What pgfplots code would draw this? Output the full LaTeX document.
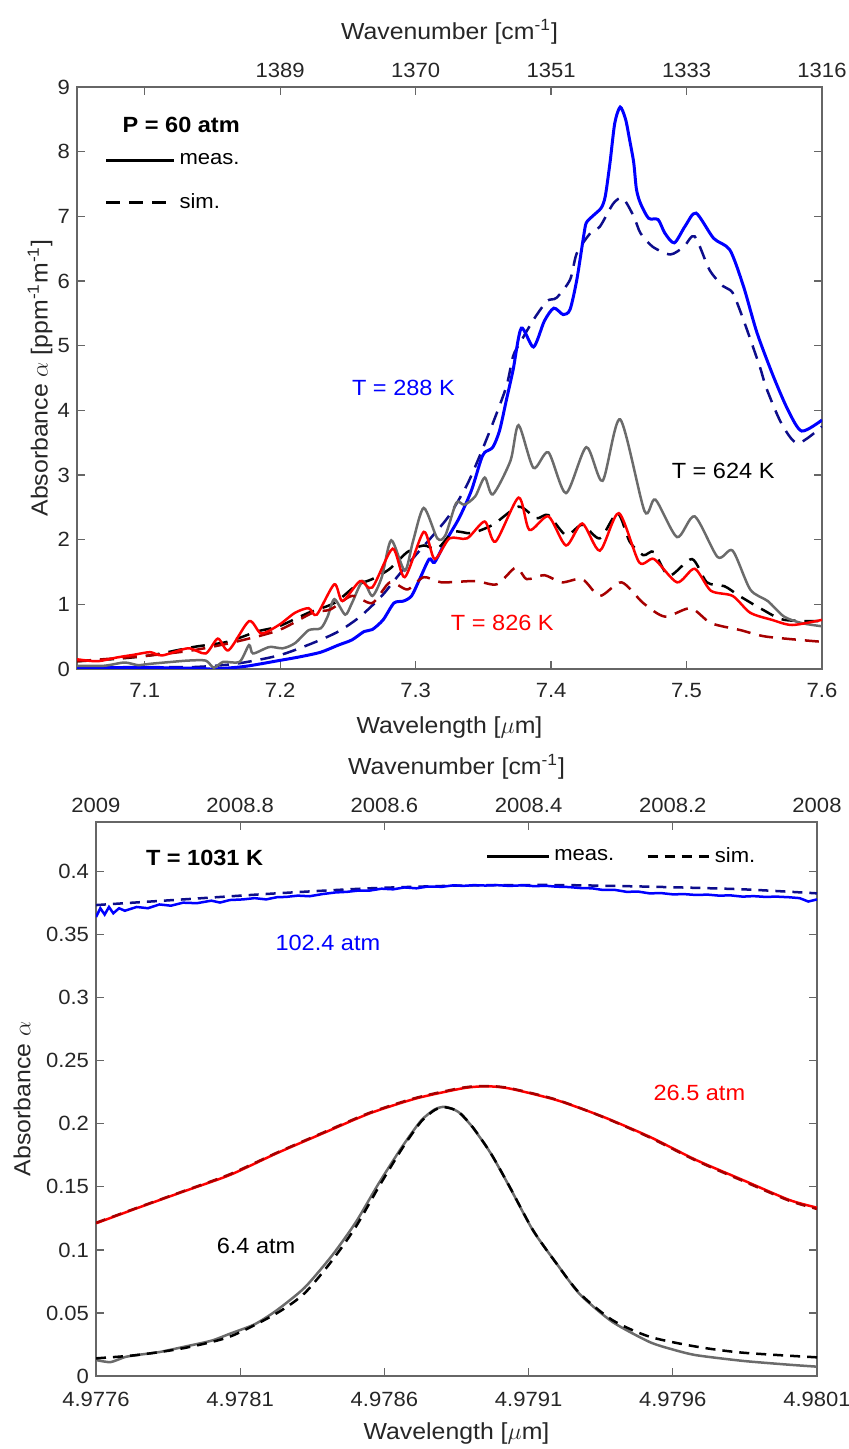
\documentclass[border=0pt]{standalone}
\usepackage{fontspec}
\setmainfont{Liberation Sans}[FakeStretch=1.07]
\usepackage{pgfplots}
\pgfplotsset{compat=1.18}
\definecolor{mblue}{rgb}{0,0,1}
\definecolor{sblue}{rgb}{0.05,0.05,0.55}
\definecolor{mgray}{rgb}{0.42,0.42,0.42}
\definecolor{mred}{rgb}{1,0,0}
\definecolor{sred}{rgb}{0.65,0,0}
\pgfplotsset{
  mystyle/.style={scale only axis, anchor=south west,
    axis line style={black!60, line width=0.6pt},
    tick style={black!60, line width=0.6pt},
    tick align=inside, major tick length=4pt,
    tick label style={font=\fontsize{10.3}{11}\selectfont, text=black!85},
    label style={font=\fontsize{11.6}{12}\selectfont, text=black!85},
    /pgf/number format/assume math mode=true},
  meas/.style={line width=1.25pt, smooth, tension=0.45},
  sim/.style={line width=1.25pt, dash pattern=on 7pt off 4.5pt, smooth, tension=0.45},
}
\begin{document}
\begin{tikzpicture}
% ---------------- top panel ----------------
\begin{axis}[mystyle, at={(38.5pt,390pt)}, width=372.5pt, height=291pt,
  xmin=7.05, xmax=7.6, ymin=0, ymax=9,
  xtick={7.1,7.2,7.3,7.4,7.5,7.6}, xticklabels={7.1,7.2,7.3,7.4,7.5,7.6},
  ytick={0,1,2,3,4,5,6,7,8,9}, yticklabels={0,1,2,3,4,5,6,7,8,9},
  xtick pos=bottom, ytick pos=both, yticklabel pos=left,
  xticklabel style={yshift=-3.5pt},
  xlabel={Wavelength [$\mu$m]},
  xlabel style={at={(axis description cs:0.5,-0.0997)}, anchor=center},
  ylabel={Absorbance $\alpha$ [ppm\textsuperscript{-1}m\textsuperscript{-1}]},
  ylabel style={at={(axis description cs:-0.0497,0.5)}, anchor=center},
  legend style={at={(axis description cs:0.037,0.893)}, anchor=north west, draw=none, fill=none,
    font=\fontsize{10.3}{11}\selectfont, row sep=9pt, inner sep=0pt},
  legend cell align=left,
  legend image code/.code={\draw[#1] (0pt,0pt) -- (34pt,0pt);},
]
\addlegendimage{black, line width=1.3pt}
\addlegendentry{meas.}
\addlegendimage{black, line width=1.3pt, dash pattern=on 7pt off 4.5pt}
\addlegendentry{sim.}
% blue sim 288 K
\addplot[sim, sblue] coordinates {
(7.050,0.02)(7.100,0.03)(7.136,0.03)(7.167,0.08)(7.199,0.21)(7.224,0.40)(7.243,0.58)(7.259,0.81)
(7.275,1.13)(7.287,1.44)(7.300,1.76)(7.313,2.07)(7.325,2.38)(7.338,2.85)(7.348,3.33)(7.357,3.80)
(7.367,4.37)(7.372,4.84)(7.377,5.04)(7.387,5.40)(7.397,5.69)(7.404,5.74)(7.414,6.02)(7.419,6.43)
(7.429,6.74)(7.436,6.84)(7.446,7.20)(7.453,7.28)(7.461,7.00)(7.466,6.74)(7.475,6.53)(7.488,6.41)
(7.498,6.53)(7.506,6.69)(7.517,6.17)(7.527,5.92)(7.534,5.82)(7.542,5.40)(7.554,4.68)(7.559,4.34)
(7.570,3.80)(7.582,3.49)(7.600,3.75)};
% blue meas 288 K
\addplot[meas, mblue, line width=1.5pt] coordinates {
(7.050,0.02)(7.080,0.02)(7.110,0.02)(7.140,0.01)(7.151,0.00)(7.174,0.04)(7.199,0.13)(7.215,0.19)
(7.230,0.26)(7.243,0.37)(7.253,0.45)(7.262,0.58)(7.268,0.61)(7.276,0.76)(7.284,1.02)(7.291,1.05)
(7.297,1.13)(7.303,1.39)(7.310,1.70)(7.314,1.65)(7.322,1.97)(7.332,2.33)(7.341,2.75)(7.348,3.22)
(7.351,3.35)(7.357,3.43)(7.362,3.69)(7.367,4.16)(7.372,4.63)(7.378,5.27)(7.387,4.98)(7.395,5.38)
(7.402,5.58)(7.409,5.48)(7.414,5.56)(7.419,6.02)(7.424,6.69)(7.426,6.90)(7.431,7.01)(7.437,7.13)
(7.440,7.31)(7.4435,7.83)(7.447,8.44)(7.451,8.69)(7.455,8.50)(7.458,8.18)(7.461,7.83)(7.463,7.42)
(7.466,7.20)(7.472,6.97)(7.479,6.95)(7.484,6.74)(7.491,6.59)(7.499,6.85)(7.507,7.05)(7.520,6.66)
(7.532,6.48)(7.542,5.92)(7.552,5.20)(7.564,4.53)(7.575,4.00)(7.585,3.68)(7.600,3.85)};
% black sim 624 K
\addplot[sim, black] coordinates {
(7.050,0.12)(7.075,0.15)(7.104,0.21)(7.136,0.34)(7.161,0.42)(7.183,0.58)(7.199,0.66)(7.221,0.87)
(7.240,1.02)(7.256,1.29)(7.268,1.39)(7.281,1.55)(7.294,1.81)(7.306,1.91)(7.316,1.86)(7.328,2.12)
(7.341,2.10)(7.357,2.23)(7.376,2.51)(7.389,2.33)(7.398,2.38)(7.411,2.07)(7.423,2.23)(7.436,2.02)
(7.449,2.41)(7.458,1.97)(7.468,1.76)(7.476,1.81)(7.487,1.44)(7.504,1.70)(7.515,1.34)(7.528,1.28)
(7.539,1.13)(7.556,0.92)(7.572,0.76)(7.600,0.74)};
% gray meas 624 K
\addplot[meas, mgray] coordinates {
(7.050,0.05)(7.070,0.05)(7.085,0.10)(7.095,0.06)(7.104,0.08)(7.120,0.11)(7.132,0.13)(7.145,0.13)
(7.151,0.02)(7.158,0.11)(7.170,0.11)(7.177,0.37)(7.180,0.24)(7.192,0.34)(7.202,0.32)(7.211,0.40)
(7.221,0.60)(7.230,0.63)(7.235,0.81)(7.240,1.08)(7.248,0.84)(7.253,1.02)(7.261,1.36)(7.268,1.13)
(7.275,1.42)(7.282,1.99)(7.292,1.52)(7.298,1.97)(7.306,2.49)(7.316,2.02)(7.322,2.07)(7.330,2.57)
(7.336,2.54)(7.344,2.67)(7.351,2.96)(7.357,2.70)(7.370,3.22)(7.376,3.77)(7.387,3.11)(7.398,3.35)
(7.411,2.72)(7.426,3.43)(7.438,2.91)(7.451,3.86)(7.469,2.44)(7.477,2.62)(7.493,2.04)(7.506,2.36)
(7.523,1.73)(7.534,1.83)(7.547,1.23)(7.560,1.05)(7.572,0.81)(7.585,0.71)(7.600,0.66)};
% dark red sim 826 K
\addplot[sim, sred] coordinates {
(7.050,0.12)(7.075,0.16)(7.104,0.21)(7.136,0.29)(7.167,0.42)(7.199,0.60)(7.224,0.87)(7.237,0.92)
(7.253,1.13)(7.268,1.02)(7.281,1.34)(7.294,1.23)(7.306,1.42)(7.319,1.34)(7.344,1.36)(7.360,1.31)
(7.374,1.57)(7.382,1.39)(7.395,1.45)(7.408,1.34)(7.423,1.39)(7.436,1.13)(7.452,1.34)(7.468,1.02)
(7.484,0.81)(7.503,0.94)(7.518,0.71)(7.540,0.60)(7.559,0.50)(7.600,0.42)};
% red meas 826 K
\addplot[meas, mred] coordinates {
(7.050,0.15)(7.065,0.12)(7.080,0.18)(7.092,0.22)(7.104,0.26)(7.113,0.21)(7.132,0.32)(7.145,0.24)
(7.154,0.47)(7.162,0.29)(7.177,0.74)(7.186,0.55)(7.199,0.68)(7.211,0.87)(7.221,0.94)(7.227,0.84)
(7.240,1.31)(7.246,1.05)(7.259,1.36)(7.268,1.26)(7.283,1.86)(7.292,1.42)(7.306,2.12)(7.314,1.70)
(7.325,2.02)(7.338,2.02)(7.351,2.28)(7.359,1.97)(7.376,2.65)(7.384,2.15)(7.398,2.36)(7.411,1.91)
(7.423,2.25)(7.436,1.83)(7.450,2.41)(7.465,1.65)(7.476,1.70)(7.493,1.34)(7.506,1.55)(7.518,1.21)
(7.534,1.13)(7.547,0.87)(7.563,0.76)(7.578,0.68)(7.600,0.76)};
\node[anchor=west, font=\fontsize{11}{12}\bfseries\selectfont] at (axis cs:7.0785,8.41) {P = 60 atm};
\node[font=\fontsize{11}{12}\selectfont, text=mblue] at (axis cs:7.291,4.35) {T = 288 K};
\node[font=\fontsize{11}{12}\selectfont, text=black] at (axis cs:7.527,3.06) {T = 624 K};
\node[font=\fontsize{11}{12}\selectfont, text=mred] at (axis cs:7.364,0.71) {T = 826 K};
\node[anchor=south west, inner sep=0pt, font=\fontsize{10.3}{11}\selectfont, text=black!85] at (rel axis cs:0,1) [xshift=2pt, yshift=2pt] {×10\textsuperscript{-3}};
\end{axis}
\begin{axis}[mystyle, at={(38.5pt,390pt)}, width=372.5pt, height=291pt,
  xmin=7.05, xmax=7.6, ymin=0, ymax=9,
  axis x line*=top, axis y line=none,
  xtick={7.1,7.2,7.3,7.4,7.5,7.6}, xticklabels={,1389,1370,1351,1333,1316},
  xticklabel style={yshift=1pt},
  xlabel={Wavenumber [cm\textsuperscript{-1}]},
  xlabel style={at={(axis description cs:0.5,1.0945)}, anchor=center},
]
\addplot[draw=none] coordinates {(7.1,1)};
\end{axis}
% ---------------- bottom panel ----------------
\begin{axis}[mystyle, at={(48pt,36.5pt)}, width=360.5pt, height=277pt,
  xmin=0, xmax=25, ymin=0, ymax=0.4394,
  xtick={0,5,10,15,20,25}, xticklabels={4.9776,4.9781,4.9786,4.9791,4.9796,4.9801},
  ytick={0,0.05,0.1,0.15,0.2,0.25,0.3,0.35,0.4},
  yticklabels={0,0.05,0.1,0.15,0.2,0.25,0.3,0.35,0.4},
  xtick pos=bottom, ytick pos=both, yticklabel pos=left,
  xticklabel style={yshift=-4.5pt},
  xlabel={Wavelength [$\mu$m]},
  xlabel style={at={(axis description cs:0.5,-0.104)}, anchor=center},
  ylabel={Absorbance $\alpha$},
  ylabel style={at={(axis description cs:-0.1026,0.5)}, anchor=center},
  legend columns=2,
  legend style={at={(axis description cs:0.54,0.962)}, anchor=north west, draw=none, fill=none,
    font=\fontsize{10.3}{11}\selectfont, inner sep=0pt,
    /tikz/every even column/.append style={column sep=14pt}},
  legend image code/.code={\draw[#1] (0pt,0pt) -- (31pt,0pt);},
]
\addlegendimage{black, line width=1.3pt}
\addlegendentry{meas.}
\addlegendimage{black, line width=1.3pt, dash pattern=on 5pt off 3.5pt}
\addlegendentry{sim.}
% blue 102.4 atm
\addplot[sim, sblue, dash pattern=on 5pt off 3.5pt] coordinates {
(0,0.3735)(3.02,0.3780)(6.26,0.3828)(9.49,0.3868)(12.72,0.3890)(15.96,0.3894)(19.19,0.3881)(22.42,0.3860)(25,0.3828)};
\addplot[mblue, line width=1.25pt] coordinates {
(0,0.364)(0.15,0.371)(0.3,0.366)(0.45,0.372)(0.6,0.367)(0.8,0.371)(1.0,0.369)(1.41,0.372)(1.8,0.371)(2.2,0.374)
(2.6,0.373)(3.02,0.3754)(3.5,0.375)(4.0,0.377)(4.3,0.3755)(4.64,0.3775)(5.1,0.378)(5.5,0.379)(5.9,0.378)(6.26,0.3797)
(6.6,0.3800)(7.0,0.381)(7.4,0.3805)(7.87,0.3823)(8.3,0.3835)(8.7,0.384)(9.1,0.3850)(9.49,0.3850)(9.9,0.3865)(10.3,0.386)
(10.7,0.3875)(11.11,0.3868)(11.5,0.3882)(12.0,0.388)(12.4,0.3892)(12.72,0.3887)(13.1,0.3893)(13.5,0.389)(13.9,0.3893)
(14.34,0.3887)(14.8,0.3892)(15.2,0.3885)(15.6,0.3888)(15.96,0.3881)(16.4,0.3878)(16.8,0.387)(17.2,0.3868)(17.57,0.3855)
(18.0,0.3855)(18.4,0.384)(18.8,0.3842)(19.19,0.3828)(19.6,0.3830)(20.0,0.382)(20.4,0.3822)(20.81,0.3815)(21.2,0.3818)
(21.6,0.381)(22.0,0.3812)(22.42,0.3802)(22.8,0.3806)(23.2,0.380)(23.6,0.3802)(24.04,0.3797)(24.4,0.3790)(24.7,0.3763)(25,0.378)};
% red 26.5 atm
\addplot[mred, line width=1.25pt, smooth, tension=0.4] coordinates {
(0,0.1211)(1.41,0.1330)(3.02,0.1462)(4.64,0.1594)(6.26,0.1766)(7.87,0.1925)(9.49,0.2083)(11.11,0.2202)
(12.72,0.2282)(13.53,0.2298)(14.34,0.2280)(15.96,0.2189)(17.57,0.2057)(19.19,0.1898)(20.81,0.1713)
(22.42,0.1555)(24.04,0.1396)(25,0.1335)};
\addplot[sim, sred, dash pattern=on 5pt off 3.5pt] coordinates {
(0,0.1215)(1.41,0.1333)(3.02,0.1465)(4.64,0.1600)(6.26,0.1770)(7.87,0.1930)(9.49,0.2088)(11.11,0.2207)
(12.72,0.2287)(13.53,0.2300)(14.34,0.2283)(15.96,0.2192)(17.57,0.2055)(19.19,0.1893)(20.81,0.1708)
(22.42,0.1548)(24.04,0.1390)(25,0.1325)};
% gray 6.4 atm
\addplot[mgray, line width=1.25pt, smooth, tension=0.4] coordinates {
(0,0.0127)(0.5,0.011)(1.0,0.015)(1.41,0.0166)(2.2,0.019)(3.02,0.023)(4.0,0.028)(4.64,0.0335)(5.5,0.041)
(6.26,0.052)(7.23,0.070)(8.20,0.096)(9.01,0.122)(9.81,0.153)(10.62,0.182)(11.27,0.2025)(11.75,0.2115)
(12.11,0.2135)(12.56,0.2095)(13.05,0.1975)(13.69,0.1765)(14.34,0.1500)(15.15,0.1155)(15.96,0.0895)
(16.77,0.0650)(17.90,0.0430)(19.19,0.0270)(20.0,0.021)(20.81,0.0165)(22.42,0.0120)(24.0,0.009)(25,0.0074)};
\addplot[sim, black, dash pattern=on 5pt off 3.5pt] coordinates {
(0,0.0140)(1.41,0.0166)(3.02,0.0220)(4.64,0.0312)(6.26,0.0497)(7.23,0.0656)(8.20,0.0920)(9.01,0.1184)
(9.81,0.1502)(10.62,0.1806)(11.27,0.2017)(11.75,0.2110)(12.11,0.2131)(12.56,0.2097)(13.05,0.1977)
(13.69,0.1766)(14.34,0.1502)(15.15,0.1158)(15.96,0.0894)(16.77,0.0656)(17.90,0.0444)(19.19,0.0312)
(20.81,0.0233)(22.42,0.0185)(25,0.0148)};
\node[anchor=west, font=\fontsize{11}{12}\bfseries\selectfont] at (axis cs:1.49,0.411) {T = 1031 K};
\node[font=\fontsize{11}{12}\selectfont, text=mblue] at (axis cs:8.04,0.3434) {102.4 atm};
\node[font=\fontsize{11}{12}\selectfont, text=mred] at (axis cs:20.92,0.2247) {26.5 atm};
\node[font=\fontsize{11}{12}\selectfont, text=black] at (axis cs:5.55,0.1031) {6.4 atm};
\end{axis}
\begin{axis}[mystyle, at={(48pt,36.5pt)}, width=360.5pt, height=277pt,
  xmin=0, xmax=25, ymin=0, ymax=0.4394,
  axis x line*=top, axis y line=none,
  xtick={0,5,10,15,20,25}, xticklabels={2009,2008.8,2008.6,2008.4,2008.2,2008},
  xticklabel style={yshift=1pt},
  xlabel={Wavenumber [cm\textsuperscript{-1}]},
  xlabel style={at={(axis description cs:0.5,1.0993)}, anchor=center},
]
\addplot[draw=none] coordinates {(1,0.1)};
\end{axis}
\pgfresetboundingbox
\useasboundingbox (0,0) rectangle (424.5pt,724.5pt);
\end{tikzpicture}
\end{document}
